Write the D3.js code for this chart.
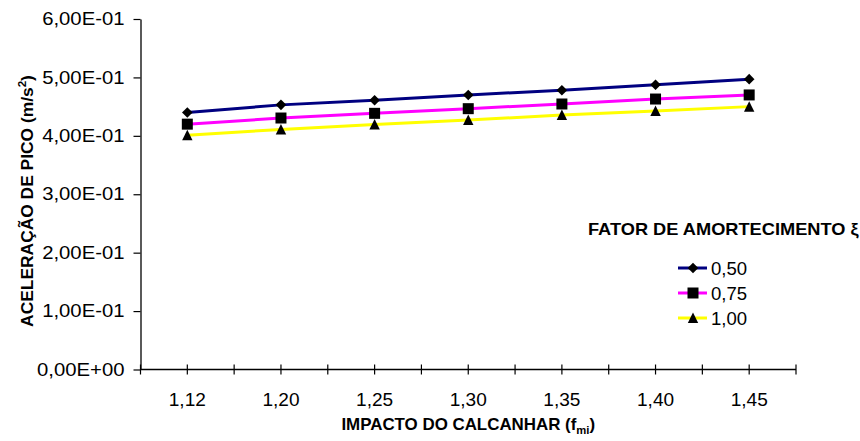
<!DOCTYPE html>
<html>
<head>
<meta charset="utf-8">
<script src="https://cdn.jsdelivr.net/npm/d3@7"></script>
<style>
  html, body { margin: 0; padding: 0; background: #fff; }
  svg { display: block; font-family: Arial, "Liberation Sans", sans-serif; }
</style>
</head>
<body>
<svg id="chart" width="860" height="441"></svg>
<script>
// ---- data ----
const categories = ["1,12", "1,20", "1,25", "1,30", "1,35", "1,40", "1,45"];
const series050 = [0.440, 0.453, 0.461, 0.470, 0.478, 0.4875, 0.497];
const series075 = [0.420, 0.4305, 0.4385, 0.4465, 0.4545, 0.463, 0.470];
const series100 = [0.401, 0.411, 0.4195, 0.427, 0.4355, 0.4425, 0.450];
const seriesNames = ["0,50", "0,75", "1,00"];
const seriesColors = ["#000080", "#FF00FF", "#FFFF00"];
const seriesMarkers = ["diamond", "square", "triangle"];
const yTickValues = [0, 0.1, 0.2, 0.3, 0.4, 0.5, 0.6];
const yTickLabels = ["0,00E+00", "1,00E-01", "2,00E-01", "3,00E-01", "4,00E-01", "5,00E-01", "6,00E-01"];

const allSeries = [series050, series075, series100].map((vals, i) => ({
  name: seriesNames[i], color: seriesColors[i], marker: seriesMarkers[i], values: vals
}));

// ---- layout ----
const svg = d3.select("#chart");
const plot = { left: 140.5, right: 796, top: 19, bottom: 369.5 };

const x = d3.scaleBand().domain(categories).range([plot.left, plot.right]).padding(0);
const y = d3.scaleLinear().domain([0, 0.6]).range([plot.bottom, plot.top]);
const bw = x.bandwidth();

function markerPath(type) {
  if (type === "diamond") return "M0,-5.3L5.3,0L0,5.3L-5.3,0Z";
  if (type === "square") return "M-5.5,-5.5H5.5V5.5H-5.5Z";
  return "M0,-5.5L5.2,5L-5.2,5Z";
}

// ---- axes ----
const g = svg.append("g");

// y axis
const ySx = 1.16;
const yAxis = d3.axisLeft(y)
  .tickValues(yTickValues)
  .tickFormat((d, i) => yTickLabels[i])
  .tickSizeInner(7).tickSizeOuter(0).tickPadding(11);
const yg = g.append("g").attr("transform", `translate(${plot.left},0)`).call(yAxis);
yg.select(".domain").attr("stroke", "#000").attr("stroke-width", 1.3);
yg.selectAll(".tick line").attr("stroke", "#000").attr("stroke-width", 1.2);
yg.selectAll(".tick text").attr("font-size", 17.5).attr("fill", "#000")
  .attr("font-family", "Arial, 'Liberation Sans', sans-serif")
  .attr("x", -16 / ySx)
  .attr("transform", `scale(${ySx},1)`);

// x axis line
g.append("line")
  .attr("x1", plot.left).attr("x2", plot.right)
  .attr("y1", plot.bottom).attr("y2", plot.bottom)
  .attr("stroke", "#000").attr("stroke-width", 1.3);

// x ticks at band boundaries and centers
const tickXs = [];
categories.forEach(c => { tickXs.push(x(c)); tickXs.push(x(c) + bw / 2); });
tickXs.push(plot.right);
g.selectAll(".xt").data(tickXs).enter().append("line")
  .attr("x1", d => d).attr("x2", d => d)
  .attr("y1", plot.bottom - 5).attr("y2", plot.bottom + 5)
  .attr("stroke", "#000").attr("stroke-width", 1.2);

// x labels
g.selectAll(".xl").data(categories).enter().append("text")
  .attr("transform", d => `translate(${x(d) + bw / 2},406) scale(1.06,1)`)
  .attr("text-anchor", "middle")
  .attr("font-size", 18)
  .text(d => d);

// ---- series ----
const line = d3.line().x((d, i) => x(categories[i]) + bw / 2).y(d => y(d));
allSeries.forEach(s => {
  g.append("path").datum(s.values)
    .attr("d", line).attr("fill", "none")
    .attr("stroke", s.color).attr("stroke-width", 3);
});
allSeries.forEach(s => {
  g.selectAll(null).data(s.values).enter().append("path")
    .attr("d", markerPath(s.marker))
    .attr("transform", (d, i) => `translate(${x(categories[i]) + bw / 2},${y(d)})`)
    .attr("fill", "#000");
});

// ---- titles ----
const yt = svg.append("text")
  .attr("transform", "translate(33,201) rotate(-90) scale(1.055,1)")
  .attr("text-anchor", "middle")
  .attr("font-size", 16.5).attr("font-weight", "bold");
yt.append("tspan").text("ACELERAÇÃO DE PICO  (m/s");
yt.append("tspan").attr("font-size", 11).attr("dy", -7).text("2");
yt.append("tspan").attr("dy", 7).text(")");

const xt = svg.append("text")
  .attr("transform", `translate(${(plot.left + plot.right) / 2},430) scale(1.025,1)`)
  .attr("text-anchor", "middle")
  .attr("font-size", 16.5).attr("font-weight", "bold");
xt.append("tspan").text("IMPACTO DO CALCANHAR (f");
xt.append("tspan").attr("font-size", 11).attr("dy", 4).text("mi");
xt.append("tspan").attr("dy", -4).text(")");

// ---- legend ----
svg.append("text")
  .attr("transform", "translate(588,235) scale(1.105,1)")
  .attr("font-size", 16.5).attr("font-weight", "bold")
  .text("FATOR DE AMORTECIMENTO ξ");

const lg = svg.append("g");
allSeries.forEach((s, i) => {
  const cy = 268 + i * 25;
  lg.append("line").attr("x1", 678).attr("x2", 707).attr("y1", cy).attr("y2", cy)
    .attr("stroke", s.color).attr("stroke-width", 3);
  lg.append("path").attr("d", markerPath(s.marker))
    .attr("transform", `translate(693,${cy})`).attr("fill", "#000");
  lg.append("text").attr("transform", `translate(711,${cy + 6.5}) scale(1.06,1)`)
    .attr("font-size", 17.5).text(s.name);
});
</script>
</body>
</html>
